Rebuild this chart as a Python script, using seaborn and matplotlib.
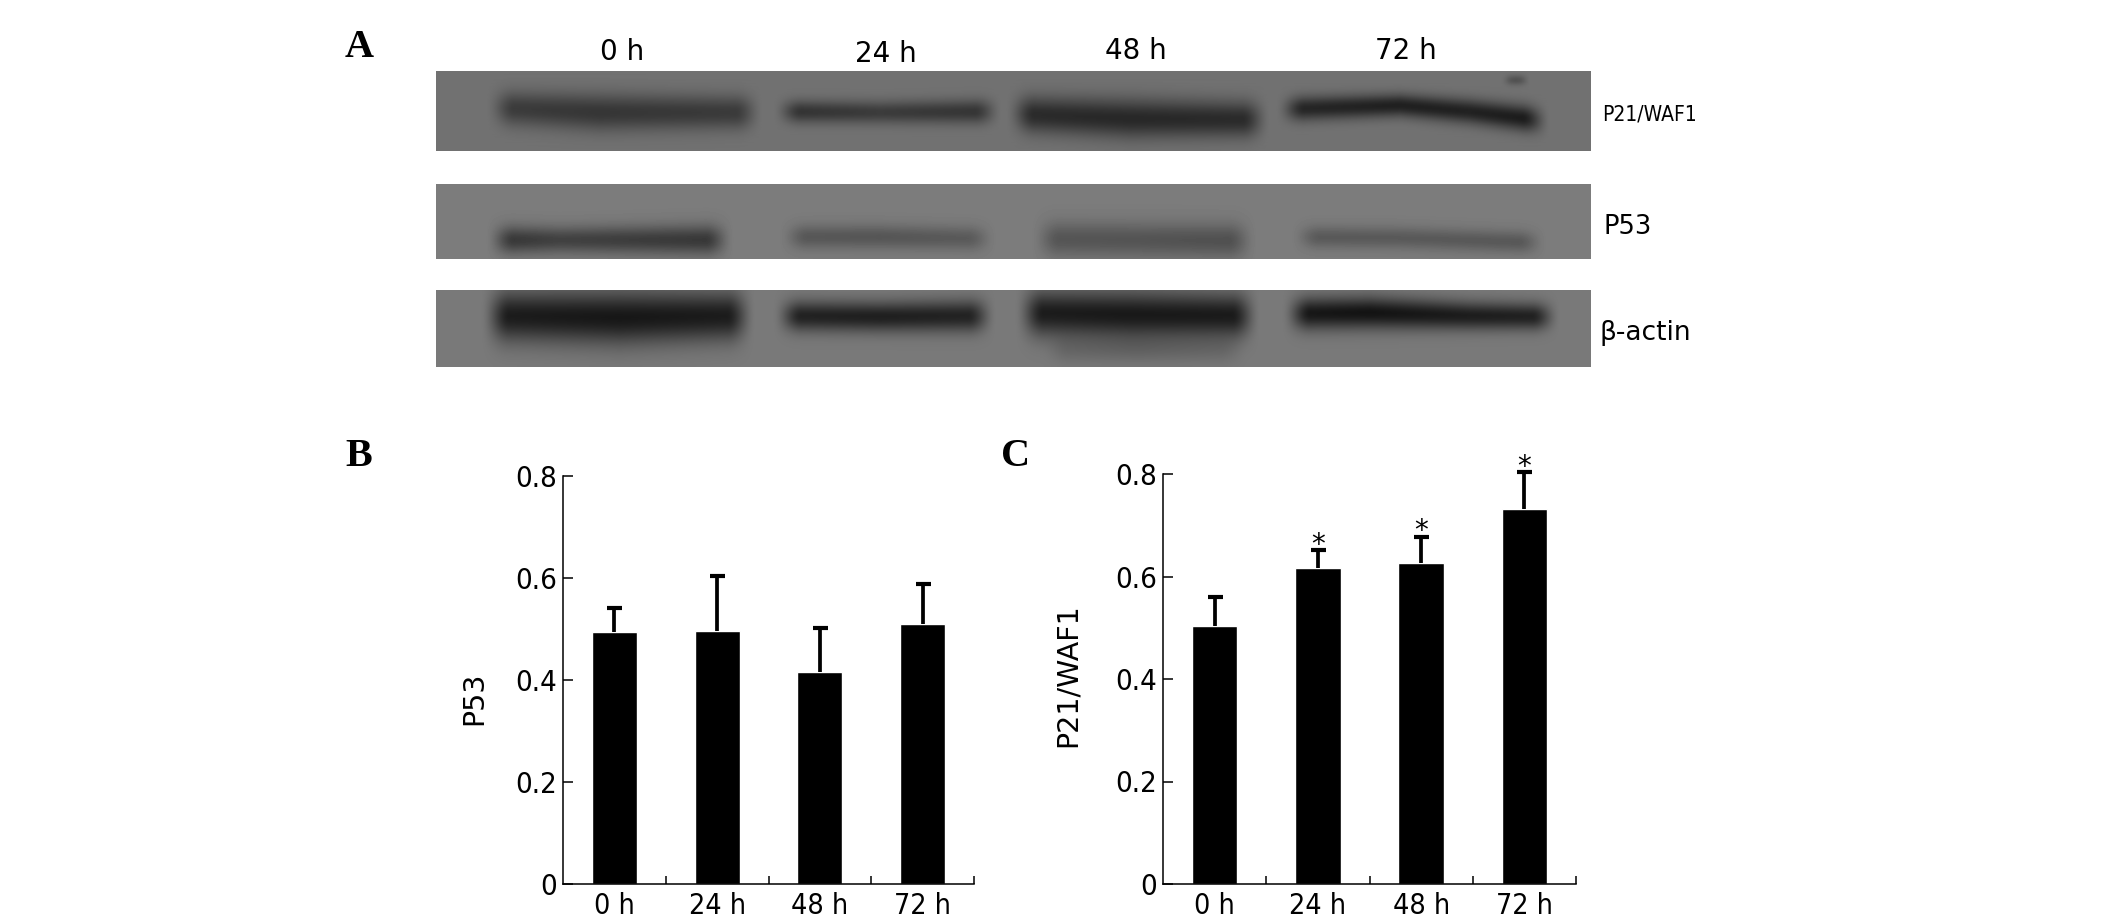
import numpy as np
import seaborn as sns
import matplotlib
matplotlib.use('Agg')
import matplotlib.pyplot as plt

W, H = 2126, 921

# bar charts
hours = ['0 h', '24 h', '48 h', '72 h']
p53_mean = [0.494, 0.496, 0.415, 0.509]
p53_top = [0.541, 0.603, 0.501, 0.589]
p21_mean = [0.503, 0.616, 0.626, 0.732]
p21_top = [0.560, 0.652, 0.678, 0.804]
p21_stars = ['', '*', '*', '*']
y_ticks = [0, 0.2, 0.4, 0.6, 0.8]
y_tick_labels = ['0', '0.2', '0.4', '0.6', '0.8']

# western blot bands, read in picture pixels: x stops, centre y, half thickness, grey
p21_blot_box = (436, 1591, 71, 151)
p21_bg = 114
p21_bands = [
    ([485, 600, 765], [108, 113, 113], [16, 18, 16], [62, 54, 60]),
    ([772, 880, 1004], [112, 113, 112], [11, 11, 12], [50, 60, 52]),
    ([1005, 1130, 1272], [114, 119, 120], [17, 19, 17], [44, 40, 44]),
    ([1275, 1400, 1470, 1552], [110, 106, 112, 122], [12, 11, 12, 13], [40, 32, 34, 26]),
    ([1500, 1516, 1532], [81, 81, 81], [5, 5, 5], [92, 82, 92]),
]
p53_blot_box = (436, 1591, 184, 259)
p53_bg = 124
p53_bands = [
    ([485, 560, 735], [240, 240, 240], [14, 13, 15], [52, 66, 55]),
    ([778, 880, 998], [237, 237, 239], [12, 12, 12], [88, 86, 92]),
    ([1030, 1140, 1258], [239, 240, 241], [17, 17, 17], [86, 84, 80]),
    ([1290, 1400, 1548], [237, 238, 243], [11, 11, 11], [90, 90, 88]),
]
actin_blot_box = (436, 1591, 290, 367)
actin_bg = 122
actin_bands = [
    ([480, 620, 757], [316, 318, 316], [24, 26, 23], [30, 24, 30]),
    ([772, 880, 998], [316, 317, 316], [15, 15, 16], [36, 32, 37]),
    ([1014, 1130, 1262], [313, 315, 316], [22, 23, 21], [30, 26, 28]),
    ([1281, 1370, 1470, 1562], [314, 313, 316, 317], [16, 16, 14, 13], [26, 20, 30, 36]),
    ([1040, 1140, 1250], [350, 350, 350], [14, 14, 14], [108, 104, 108]),
]

# blot lane labels: text, x, baseline y in picture pixels
lane_labels = [('0 h', 622, 60), ('24 h', 886, 62), ('48 h', 1136, 59), ('72 h', 1406, 59)]

sns.set_theme(style='white', rc={'font.family': 'DejaVu Sans'})
plt.rcParams['font.family'] = ['DejaVu Sans']


def fx(x):
    return x / W


def fy(y):
    return 1 - y / H


def draw_blot(fig, box, bg, bands):
    x0, x1, y0, y1 = box
    ax = fig.add_axes([fx(x0), fy(y1), (x1 - x0) / W, (y1 - y0) / H])
    xs = np.arange(x0, x1) + 0.5
    ys = np.arange(y0, y1) + 0.5
    xx, yy = np.meshgrid(xs, ys)
    img = np.full(xx.shape, float(bg))
    for xp, yc, th, dark in bands:
        c = np.interp(xx, xp, yc)
        t = np.interp(xx, xp, th)
        d = np.interp(xx, xp, dark)
        soft = min(30, (xp[-1] - xp[0]) / 2.5)
        edge = np.clip((xx - xp[0]) / soft, 0, 1) * np.clip((xp[-1] - xx) / soft, 0, 1)
        edge = edge * edge * (3 - 2 * edge)
        shape = np.exp(-(np.abs(yy - c) / t) ** 2) * edge
        img = img - (bg - d) * shape
    ax.imshow(img, cmap='gray', vmin=0, vmax=255, aspect='auto', extent=(x0, x1, y1, y0))
    ax.axis('off')


def draw_bars(fig, box, mean, top, ylabel, ylabel_x, ylabel_y, stars=None):
    left, right, ytop, ybot = box
    ax = fig.add_axes([fx(left), fy(ybot), (right - left) / W, (ybot - ytop) / H])
    sns.barplot(x=hours, y=mean, color='black', saturation=1, width=0.44, errorbar=None, ax=ax)
    up = np.array(top) - np.array(mean)
    eb = ax.errorbar(range(4), mean, yerr=[np.zeros(4), up], fmt='none', ecolor='black',
                     elinewidth=2.7, capsize=5.4, capthick=3, clip_on=False, zorder=1)
    eb[1][0].set_visible(False)  # only the upper cap
    ax.set_xlim(-0.5, 3.5)
    ax.set_ylim(0, 0.8)
    sns.despine(ax=ax)
    for side in ['left', 'bottom']:
        ax.spines[side].set_linewidth(1.1)
        ax.spines[side].set_color('black')
    ax.set_yticks(y_ticks)
    ax.set_yticklabels(y_tick_labels, fontsize=21, stretch='condensed', color='black')
    ax.tick_params(axis='y', direction='in', length=7, width=1.1, pad=4, left=True, color='black')
    ax.set_xticks(range(4))
    ax.set_xticklabels(hours, fontsize=20.5, stretch='condensed', color='black')
    ax.set_xticks([0.5, 1.5, 2.5, 3.5], minor=True)
    ax.tick_params(axis='x', which='major', length=0, pad=6)
    ax.tick_params(axis='x', which='minor', direction='in', length=6, width=1.1, bottom=True, color='black')
    ax.set_xlabel('')
    ax.set_ylabel('')
    fig.text(fx(ylabel_x), fy(ylabel_y), ylabel, rotation=90, ha='center', va='center',
             fontsize=20.5, color='black')
    if stars:
        for i, s in enumerate(stars):
            if s:
                ax.annotate(s, (i, top[i]), xytext=(0, -2), textcoords='offset points',
                            ha='center', va='baseline', fontsize=20, color='black',
                            annotation_clip=False)
    return ax


fig = plt.figure(figsize=(W / 100, H / 100), dpi=100, facecolor='white')

draw_blot(fig, p21_blot_box, p21_bg, p21_bands)
draw_blot(fig, p53_blot_box, p53_bg, p53_bands)
draw_blot(fig, actin_blot_box, actin_bg, actin_bands)

for txt, x, y in lane_labels:
    fig.text(fx(x), fy(y), txt, ha='center', va='baseline', fontsize=20, color='black')

fig.text(fx(1602), fy(120), 'P21/WAF1', ha='left', va='baseline', fontsize=15,
         stretch='condensed', color='black')
fig.text(fx(1603), fy(234), 'P53', ha='left', va='baseline', fontsize=18.5, color='black')
fig.text(fx(1600), fy(340), 'β-actin', ha='left', va='baseline', fontsize=19, color='black')

for txt, x, y in [('A', 345, 57), ('B', 345, 466), ('C', 1001, 466)]:
    fig.text(fx(x), fy(y), txt, ha='left', va='baseline', fontsize=29, fontweight='bold',
             family='Liberation Serif', color='black')

draw_bars(fig, (563, 974, 476, 884), p53_mean, p53_top, 'P53', 474, 698)
draw_bars(fig, (1163, 1576, 474, 884), p21_mean, p21_top, 'P21/WAF1', 1068, 675, p21_stars)

fig.savefig('out.png', dpi=100)
